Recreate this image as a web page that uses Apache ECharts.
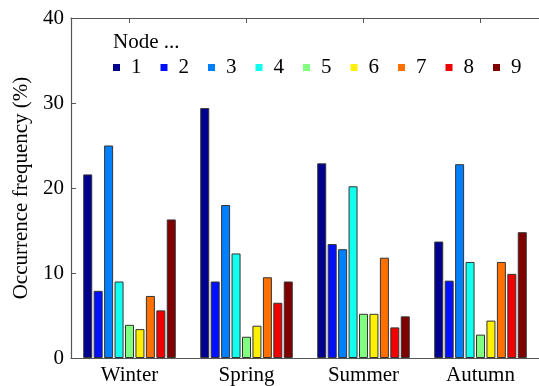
<!DOCTYPE html>
<html>
<head>
<meta charset="utf-8">
<script src="https://cdn.jsdelivr.net/npm/echarts@6/dist/echarts.min.js"></script>
<style>html,body{margin:0;padding:0;background:#fff}#c{width:539px;height:386px}</style>
</head>
<body>
<div id="c"></div>
<script>
var seasons = ['Winter', 'Spring', 'Summer', 'Autumn'];
var nodeNames = ['1', '2', '3', '4', '5', '6', '7', '8', '9'];
var node1 = [21.6, 29.4, 22.9, 13.7];
var node2 = [7.9, 9.0, 13.4, 9.1];
var node3 = [25.0, 18.0, 12.8, 22.8];
var node4 = [9.0, 12.3, 20.2, 11.3];
var node5 = [3.9, 2.5, 5.2, 2.75];
var node6 = [3.4, 3.8, 5.2, 4.4];
var node7 = [7.3, 9.5, 11.8, 11.3];
var node8 = [5.6, 6.5, 3.6, 9.9];
var node9 = [16.3, 9.0, 4.9, 14.8];
var yTicks = [0, 10, 20, 30, 40];
var colors = ['#00008f', '#0010ff', '#0080ff', '#10ffef', '#80ff80', '#ffef00', '#ff7000', '#f00000', '#800000'];

var allData = [node1, node2, node3, node4, node5, node6, node7, node8, node9];
var font = 'Liberation Serif';
var chart = echarts.init(document.getElementById('c'), null, {renderer: 'canvas'});
var series = nodeNames.map(function (n, i) {
  return {
    name: n, type: 'bar', data: allData[i], xAxisIndex: 0,
    barWidth: 9, barGap: '16%',
    itemStyle: {color: colors[i], borderColor: '#333', borderWidth: 1},
    emphasis: {disabled: true}
  };
});
chart.setOption({
  animation: false,
  backgroundColor: '#fff',
  grid: {left: 71, top: 18, height: 340, width: 476, containLabel: false},
  graphic: [{
    type: 'text', left: 113, top: 32,
    style: {text: 'Node ...', font: '21px "' + font + '"', fill: '#000'}
  }],
  legend: {
    data: nodeNames, left: 113, top: 57, padding: 0,
    icon: 'rect', itemWidth: 7, itemHeight: 7, itemGap: 19,
    itemStyle: {borderWidth: 0},
    textStyle: {fontFamily: font, fontSize: 21, color: '#000', padding: [0, 0, 0, 6]}
  },
  xAxis: [{
    type: 'category', data: seasons, position: 'bottom',
    axisLine: {lineStyle: {color: '#555', width: 1.2}},
    axisTick: {inside: true, alignWithLabel: true, length: 5, lineStyle: {color: '#555'}},
    axisLabel: {fontFamily: font, fontSize: 21, color: '#000', margin: 7}
  }, {
    type: 'category', data: seasons, position: 'top',
    axisLine: {show: true, lineStyle: {color: '#555', width: 1.2}},
    axisTick: {show: true, inside: true, alignWithLabel: true, length: 5, lineStyle: {color: '#555'}},
    axisLabel: {show: false}
  }],
  yAxis: {
    type: 'value', min: yTicks[0], max: yTicks[yTicks.length - 1], interval: 10,
    name: 'Occurrence frequency (%)', nameLocation: 'middle', nameGap: 38,
    nameTextStyle: {fontFamily: font, fontSize: 21, color: '#000'},
    axisLine: {show: true, lineStyle: {color: '#555', width: 1.2}},
    axisTick: {show: true, inside: true, length: 5, lineStyle: {color: '#555'}},
    splitLine: {show: false},
    axisLabel: {fontFamily: font, fontSize: 21, color: '#000', margin: 7}
  },
  series: series
});
</script>
</body>
</html>
